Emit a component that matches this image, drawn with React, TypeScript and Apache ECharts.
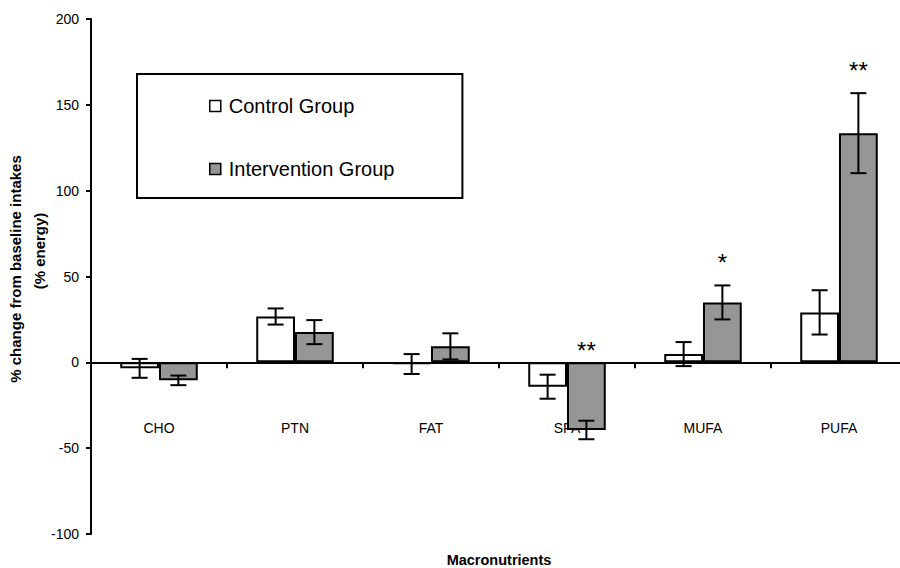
import React, { useEffect, useRef } from "react";
import * as echarts from "echarts";

const categories = ["CHO", "PTN", "FAT", "SFA", "MUFA", "PUFA"];
const controlValues = [-3.5, 26.7, -1.0, -14.2, 4.8, 29.1];
const controlErrors = [5.5, 4.7, 5.8, 7.0, 7.0, 12.9];
const interventionValues = [-10.5, 17.6, 9.3, -39.4, 34.9, 133.5];
const interventionErrors = [2.8, 7.0, 7.6, 5.4, 9.9, 23.3];
const sigLabels = ["", "", "", "**", "*", "**"];
const sigPositions = [null, null, null, 8.5, 59.8, 171.6];
const yTicks = { min: -100, max: 200, step: 50 };
const seriesNames = ["Control Group", "Intervention Group"];

const FONT = "'Liberation Sans', Arial, Helvetica, sans-serif";
const CAT_GAP = 0.43;

export default function App() {
  const ref = useRef<HTMLDivElement>(null);

  useEffect(() => {
    document.body.style.margin = "0";
    if (!ref.current) return;
    const chart = echarts.init(ref.current, undefined, { renderer: "svg" });

    const errorSeries = (vals: number[], errs: number[], side: number, name: string) => ({
      type: "custom",
      name: name + " error",
      z: 5,
      silent: true,
      data: vals.map((v, i) => [i, v, errs[i]]),
      encode: { x: 0, y: 1 },
      renderItem: (params: any, api: any) => {
        const cat = api.value(0);
        const val = api.value(1);
        const err = api.value(2);
        const bandW = api.size([1, 0])[0];
        const barW = (bandW * (1 - CAT_GAP)) / 2;
        const cx = api.coord([cat, 0])[0] + (side * barW) / 2;
        const yTop = api.coord([cat, val + err])[1];
        const yBot = api.coord([cat, val - err])[1];
        const half = 8;
        const style = { stroke: "#000", lineWidth: 2 };
        return {
          type: "group",
          children: [
            { type: "line", shape: { x1: cx, y1: yTop, x2: cx, y2: yBot }, style },
            { type: "line", shape: { x1: cx - half, y1: yTop, x2: cx + half, y2: yTop }, style },
            { type: "line", shape: { x1: cx - half, y1: yBot, x2: cx + half, y2: yBot }, style },
          ],
        };
      },
    });

    const option: any = {
      animation: false,
      backgroundColor: "#fff",
      textStyle: { fontFamily: FONT },
      grid: { left: 91, right: -7, top: 19, bottom: 34, containLabel: false, outerBoundsMode: "none" },
      legend: {
        orient: "vertical",
        left: 137,
        top: 74,
        padding: [22, 68, 19, 72],
        itemGap: 43,
        itemWidth: 11,
        itemHeight: 11,
        icon: "rect",
        borderColor: "#000",
        borderWidth: 2,
        borderRadius: 0,
        backgroundColor: "#fff",
        textStyle: { fontSize: 20, color: "#000", fontFamily: FONT, padding: [0, 0, 0, 3] },
        data: [
          { name: seriesNames[0], itemStyle: { color: "#fff", borderColor: "#000", borderWidth: 1.5 } },
          { name: seriesNames[1], itemStyle: { color: "#969696", borderColor: "#000", borderWidth: 1.5 } },
        ],
      },
      xAxis: {
        type: "category",
        data: categories,
        name: "Macronutrients",
        nameLocation: "middle",
        nameGap: 18,
        nameTextStyle: { fontSize: 14.5, lineHeight: 15, fontWeight: "bold", color: "#000", fontFamily: FONT },
        axisLine: { onZero: true, lineStyle: { color: "#000", width: 2 } },
        axisTick: { show: true, length: 6, interval: 0, lineStyle: { color: "#000", width: 2 } },
        axisLabel: { margin: -113, fontSize: 14, color: "#000", fontFamily: FONT, interval: 0 },
        splitLine: { show: false },
      },
      yAxis: {
        type: "value",
        min: yTicks.min,
        max: yTicks.max,
        interval: yTicks.step,
        axisLine: { show: true, onZero: false, lineStyle: { color: "#000", width: 2 } },
        axisTick: { show: true, length: 5, lineStyle: { color: "#000", width: 2 } },
        axisLabel: { margin: 12, fontSize: 14, color: "#000", fontFamily: FONT },
        splitLine: { show: false },
      },
      graphic: [
        {
          type: "text",
          x: 15.7,
          y: 269,
          rotation: Math.PI / 2,
          style: {
            text: "% change from baseline intakes",
            fontSize: 15,
            fontWeight: "bold",
            fontFamily: FONT,
            fill: "#000",
            align: "center",
            verticalAlign: "middle",
          },
        },
        {
          type: "text",
          x: 39,
          y: 251,
          rotation: Math.PI / 2,
          style: {
            text: "(% energy)",
            fontSize: 15,
            fontWeight: "bold",
            fontFamily: FONT,
            fill: "#000",
            align: "center",
            verticalAlign: "middle",
          },
        },
      ],
      series: [
        {
          type: "bar",
          name: seriesNames[0],
          data: controlValues,
          barGap: "0%",
          barCategoryGap: CAT_GAP * 100 + "%",
          itemStyle: { color: "#fff", borderColor: "#000", borderWidth: 2 },
        },
        {
          type: "bar",
          name: seriesNames[1],
          data: interventionValues,
          barGap: "0%",
          barCategoryGap: CAT_GAP * 100 + "%",
          itemStyle: { color: "#969696", borderColor: "#000", borderWidth: 2 },
        },
        errorSeries(controlValues, controlErrors, -1, seriesNames[0]),
        errorSeries(interventionValues, interventionErrors, 1, seriesNames[1]),
        {
          type: "custom",
          name: "significance",
          z: 6,
          silent: true,
          data: sigPositions.map((p, i) => [i, p == null ? 0 : p]),
          encode: { x: 0, y: 1 },
          renderItem: (params: any, api: any) => {
            const i = params.dataIndex;
            const label = sigLabels[i];
            if (!label) return null;
            const cat = api.value(0);
            const bandW = api.size([1, 0])[0];
            const barW = (bandW * (1 - CAT_GAP)) / 2;
            const pt = api.coord([cat, api.value(1)]);
            const fs = 24;
            return {
              type: "text",
              x: pt[0] + barW / 2,
              y: pt[1] + fs * 0.1,
              style: {
                text: label,
                fontSize: fs,
                fontFamily: FONT,
                fill: "#000",
                align: "center",
                verticalAlign: "middle",
              },
            };
          },
        },
      ],
    };

    chart.setOption(option);
    return () => chart.dispose();
  }, []);

  return (
    <div
      ref={ref}
      style={{ position: "absolute", left: 0, top: 0, width: 900, height: 568, background: "#fff" }}
    />
  );
}
